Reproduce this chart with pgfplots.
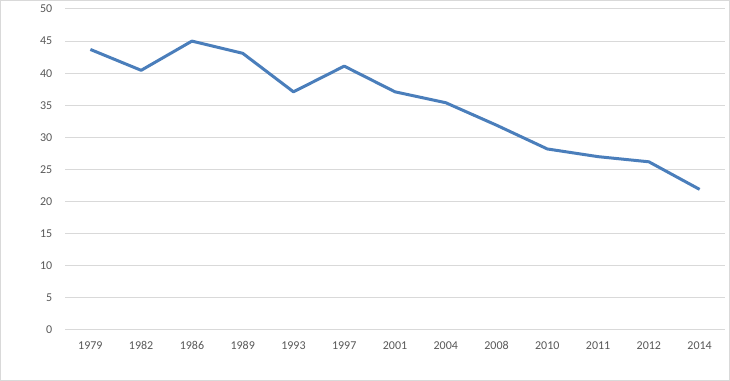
\documentclass[border=0pt]{standalone}
\usepackage{pgfplots}
\pgfplotsset{compat=1.18}
\usepackage{fontspec}
\setmainfont{Carlito}
\definecolor{lineblue}{HTML}{4A7EBB}
\definecolor{gridgray}{HTML}{D9D9D9}
\definecolor{labelgray}{HTML}{595959}
\begin{document}
\begin{tikzpicture}
\draw[draw=gridgray, line width=0.75pt, fill=white] (0.375pt,0.375pt) rectangle (547.125pt,285.375pt);
\begin{axis}[
  at={(48.75pt,38.25pt)}, anchor=south west,
  scale only axis, width=495pt, height=240.75pt,
  xmin=-0.5, xmax=12.5, ymin=0, ymax=50,
  xtick={0,...,12},
  xticklabels={1979,1982,1986,1989,1993,1997,2001,2004,2008,2010,2011,2012,2014},
  ytick={0,5,...,50},
  major tick length=0pt,
  axis line style={draw=none},
  ymajorgrids, grid style={gridgray, line width=0.75pt},
  tick label style={font=\fontsize{9}{11}\selectfont, text=labelgray},
  yticklabel style={xshift=-6pt},
  xticklabel style={yshift=-5pt},
  /pgf/number format/assume math mode=true,
  clip=false,
]
\addplot[lineblue, line width=2.25pt, line join=round] coordinates {
(0,43.7) (1,40.45) (2,45.0) (3,43.1) (4,37.1) (5,41.1) (6,37.1) (7,35.4) (8,31.9) (9,28.2) (10,27.0) (11,26.2) (12,21.9)
};
\end{axis}
\end{tikzpicture}
\end{document}
